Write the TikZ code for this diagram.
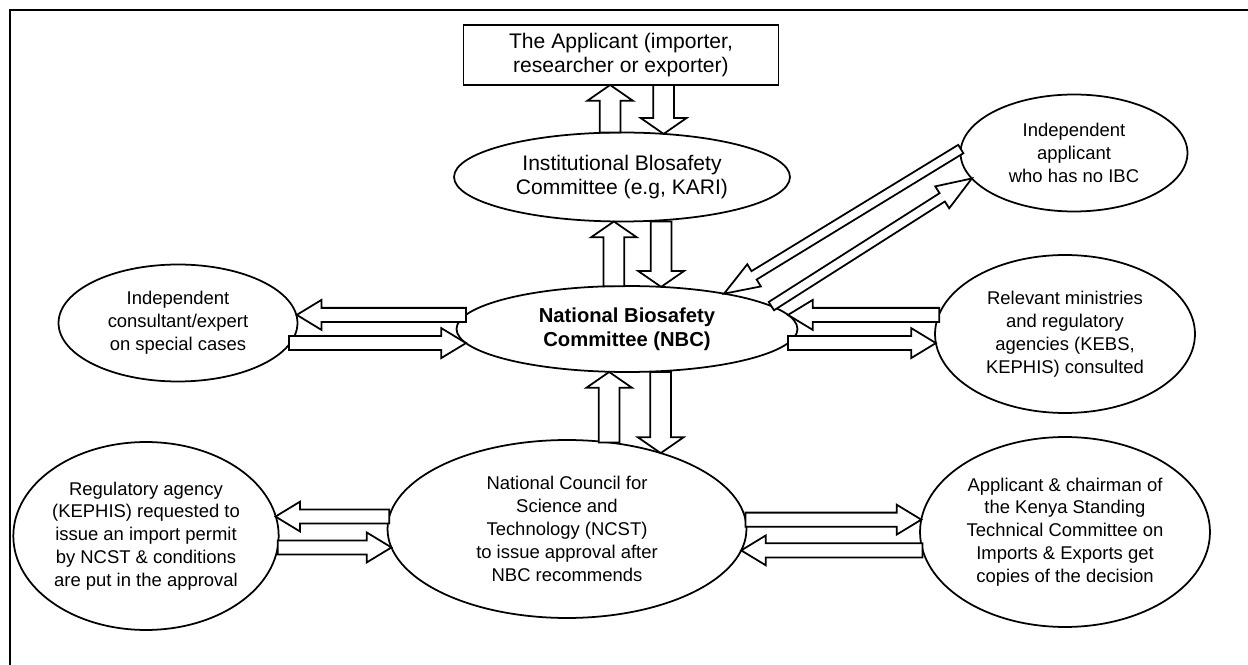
\documentclass[tikz,border=0pt]{standalone}
\usepackage{fontspec}
\setmainfont{Liberation Sans}
\usetikzlibrary{calc,shapes.geometric}
% outlined block arrow: shaft half width, head half width, head length, from, to
\newcommand{\fatarr}[5]{%
  \coordinate (fs) at #4; \coordinate (fe) at #5;
  \coordinate (fb) at ($(fe)!#3!(fs)$);
  \draw[fat] ($(fs)!#1!90:(fe)$) -- ($(fb)!#1!90:(fe)$) -- ($(fb)!#2!90:(fe)$) -- (fe)
    -- ($(fb)!#2!-90:(fe)$) -- ($(fb)!#1!-90:(fe)$) -- ($(fs)!#1!-90:(fe)$) -- cycle;}
\newcommand{\vfat}[2]{\fatarr{5.9pt}{13pt}{9pt}{#1}{#2}}
\newcommand{\hfat}[2]{\fatarr{4pt}{8.5pt}{14pt}{#1}{#2}}
\newcommand{\dfat}[2]{\fatarr{2.8pt}{7.4pt}{20pt}{#1}{#2}}

\begin{document}
\begin{tikzpicture}[x=0.02cm,y=-0.02cm,line width=1pt,
  bubble/.style={draw,ellipse,outer sep=0pt,inner sep=0pt,align=center,font=\fontsize{10.5}{13}\selectfont},
  fat/.style={draw,fill=white,line join=miter}]
\useasboundingbox (0,0) rectangle (1248,665);
\draw[line width=1.6pt] (10,665) -- (10,10) -- (1248,10);

\node[draw,rectangle,outer sep=0pt,minimum width=6.3cm,minimum height=1.2cm,align=center,font=\fontsize{12}{14}\selectfont] (app) at (621,55) {The Applicant (importer,\\researcher or exporter)};
\node[bubble,minimum width=6.72cm,minimum height=1.78cm,font=\fontsize{12}{14}\selectfont] (ibc) at (622,177) {Institutional Blosafety\\Committee (e.g, KARI)};
\node[bubble,minimum width=6.82cm,minimum height=1.72cm,font=\fontsize{11.5}{13.5}\selectfont\bfseries] (nbc) at (627,329) {National Biosafety\\Committee (NBC)};
\node[bubble,minimum width=4.78cm,minimum height=2.34cm] (cons) at (178,323) {Independent\\consultant/expert\\on special cases};
\node[bubble,minimum width=4.54cm,minimum height=2.34cm] (indep) at (1074,153) {Independent\\applicant\\who has no IBC};
\node[bubble,minimum width=5.2cm,minimum height=3.16cm] (rel) at (1065,334) {Relevant ministries\\and regulatory\\agencies (KEBS,\\KEPHIS) consulted};
\node[bubble,minimum width=5.24cm,minimum height=3.76cm] (kephis) at (146,536) {Regulatory agency\\(KEPHIS) requested to\\issue an import permit\\by NCST \& conditions\\are put in the approval};
\node[bubble,minimum width=7.18cm,minimum height=3.56cm] (ncst) at (567,529) {National Council for\\Science and\\Technology (NCST)\\to issue approval after\\NBC recommends};
\node[bubble,minimum width=5.8cm,minimum height=3.8cm] (copies) at (1065,532) {Applicant \& chairman of\\the Kenya Standing\\Technical Committee on\\Imports \& Exports get\\copies of the decision};

% vertical pairs
\vfat{(ibc.105)}{(ibc.105 |- app.south)} \vfat{(ibc.46 |- app.south)}{(ibc.46)}
\vfat{(nbc.107)}{(nbc.107 |- ibc.south)} \vfat{(nbc.51 |- ibc.south)}{(nbc.51)}
\vfat{(ncst.64)}{(ncst.64 |- nbc.south)} \vfat{(ncst.39 |- nbc.south)}{(ncst.39)}
% horizontal pairs
\hfat{(nbc.175)}{(cons.3 |- nbc.175)} \hfat{(cons.349 |- nbc.185)}{(nbc.185)}
\hfat{(rel.171 |- nbc.5)}{(nbc.5)} \hfat{(nbc.355)}{(rel.184 |- nbc.355)}
\hfat{(ncst.176)}{(kephis.9 |- ncst.176)} \hfat{(kephis.355 |- ncst.186)}{(ncst.186)}
\hfat{(ncst.3)}{(copies.175 |- ncst.3)} \hfat{(copies.187 |- ncst.353)}{(ncst.353)}
% diagonal pair
\dfat{(indep.178)}{(nbc.20)} \dfat{(nbc.9)}{(indep.194)}
\end{tikzpicture}
\end{document}
